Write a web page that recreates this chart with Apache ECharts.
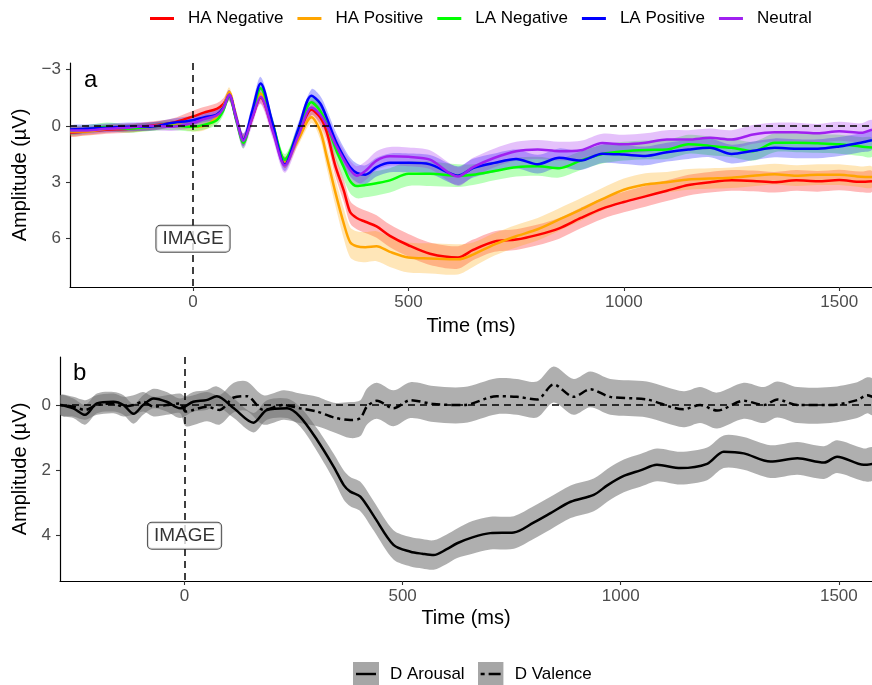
<!DOCTYPE html>
<html>
<head>
<meta charset="utf-8">
<script src="https://cdn.jsdelivr.net/npm/echarts@6/dist/echarts.min.js"></script>
<style>
  html, body { margin: 0; padding: 0; background: #ffffff; }
  #chart { width: 872px; height: 685px; }
</style>
</head>
<body>
<div id="chart"></div>
<script>
// ---------------- Panel a: grand-average ERPs per picture category ----------------
const times = [-285, -250, -200, -150, -100, -50, 0, 25, 55, 70, 84, 100, 117, 137, 157, 185, 213, 244, 275, 295,
  310, 330, 350, 365, 380, 400, 426, 457, 500, 550, 615, 650, 700, 750, 800, 850, 900, 950, 1000, 1050,
  1100, 1150, 1200, 1250, 1300, 1350, 1400, 1450, 1500, 1550, 1576];

const haNegative = [0.35, 0.3, 0.2, 0.15, 0.0, -0.15, -0.5, -0.7, -0.9, -1.15, -1.6, -0.4, 0.75, -0.4, -1.5, 0.2, 1.95, 0.55, -0.85, -0.45,
  0.3, 2.1, 3.45, 4.6, 4.9, 5.1, 5.35, 5.85, 6.35, 6.8, 7.0, 6.6, 6.15, 6.05, 5.8, 5.45, 4.9, 4.4, 4.05, 3.75,
  3.45, 3.15, 3.0, 2.9, 2.93, 3.0, 2.9, 2.95, 2.88, 2.98, 2.95];
const haPositive = [0.3, 0.3, 0.15, 0.1, 0.05, -0.1, 0.05, 0.0, -0.45, -1.0, -1.8, -0.5, 0.75, -0.5, -1.7, 0.1, 1.95, 0.75, -0.45, 0.25,
  1.6, 3.5, 5.2, 6.2, 6.4, 6.45, 6.4, 6.7, 7.0, 7.05, 7.1, 6.85, 6.3, 5.87, 5.5, 4.98, 4.45, 3.9, 3.4, 3.12,
  3.0, 2.85, 2.8, 2.76, 2.66, 2.57, 2.65, 2.6, 2.6, 2.71, 2.72];
const laNegative = [0.25, 0.2, 0.05, 0.15, 0.05, 0.0, 0.05, -0.05, -0.3, -0.8, -1.6, -0.35, 0.9, -0.55, -2.0, -0.1, 1.8, 0.3, -1.25, -0.8,
  -0.1, 1.15, 2.2, 2.95, 3.2, 3.15, 3.05, 2.9, 2.55, 2.55, 2.65, 2.6, 2.4, 2.2, 2.15, 2.25, 1.85, 1.5, 1.35, 1.28,
  1.26, 0.98, 1.07, 1.17, 1.35, 0.9, 0.9, 0.93, 0.98, 1.1, 1.15];
const laPositive = [0.2, 0.15, 0.1, 0.05, 0.05, -0.15, -0.3, -0.45, -0.6, -0.95, -1.65, -0.45, 0.75, -0.75, -2.25, -0.1, 2.05, 0.2, -1.6, -1.2,
  -0.45, 0.75, 1.65, 2.2, 2.5, 2.6, 2.2, 1.97, 1.97, 2.05, 2.65, 2.25, 1.97, 1.76, 2.04, 1.7, 1.85, 1.48, 1.53, 1.6,
  1.4, 1.26, 1.17, 1.5, 1.33, 1.17, 1.22, 1.22, 1.1, 0.9, 0.77];
const neutral = [0.25, 0.25, 0.15, 0.1, 0.0, 0.05, -0.15, -0.35, -0.55, -0.9, -1.65, -0.42, 0.8, -0.38, -1.55, 0.28, 2.1, 0.56, -0.97, -0.6,
  -0.05, 0.95, 1.8, 2.35, 2.65, 2.4, 1.85, 1.62, 1.65, 1.8, 2.7, 2.2, 1.7, 1.35, 1.26, 1.35, 1.3, 0.92, 0.98, 0.9,
  0.73, 0.73, 0.64, 0.73, 0.46, 0.34, 0.34, 0.4, 0.29, 0.37, 0.2];

// half-widths of the confidence ribbons (µV)
const haNegativeCI = [0.22, 0.22, 0.22, 0.22, 0.22, 0.22, 0.3, 0.3, 0.3, 0.3, 0.3, 0.3, 0.3, 0.3, 0.3, 0.3, 0.3, 0.3, 0.3, 0.4,
  0.5, 0.55, 0.6, 0.6, 0.6, 0.6, 0.6, 0.6, 0.6, 0.6, 0.6, 0.55, 0.55, 0.55, 0.55, 0.55, 0.55, 0.55, 0.55, 0.55,
  0.55, 0.55, 0.55, 0.55, 0.55, 0.55, 0.55, 0.55, 0.55, 0.55, 0.55];
const haPositiveCI = [0.22, 0.22, 0.22, 0.22, 0.22, 0.22, 0.25, 0.25, 0.25, 0.25, 0.25, 0.3, 0.3, 0.3, 0.3, 0.3, 0.3, 0.3, 0.3, 0.45,
  0.6, 0.7, 0.8, 0.8, 0.8, 0.8, 0.8, 0.8, 0.8, 0.8, 0.8, 0.65, 0.6, 0.6, 0.6, 0.6, 0.6, 0.6, 0.6, 0.6,
  0.55, 0.55, 0.55, 0.55, 0.55, 0.55, 0.55, 0.55, 0.55, 0.55, 0.55];
const laNegativeCI = [0.22, 0.22, 0.22, 0.22, 0.22, 0.22, 0.25, 0.25, 0.25, 0.25, 0.25, 0.3, 0.3, 0.3, 0.3, 0.3, 0.3, 0.3, 0.3, 0.35,
  0.45, 0.55, 0.65, 0.65, 0.65, 0.65, 0.65, 0.65, 0.65, 0.65, 0.6, 0.55, 0.5, 0.5, 0.5, 0.5, 0.5, 0.5, 0.5, 0.5,
  0.5, 0.5, 0.5, 0.5, 0.5, 0.5, 0.5, 0.5, 0.5, 0.5, 0.5];
const laPositiveCI = [0.22, 0.22, 0.22, 0.22, 0.22, 0.22, 0.25, 0.25, 0.25, 0.25, 0.25, 0.35, 0.35, 0.35, 0.35, 0.35, 0.35, 0.35, 0.35, 0.4,
  0.45, 0.5, 0.5, 0.5, 0.5, 0.5, 0.5, 0.5, 0.5, 0.5, 0.5, 0.5, 0.5, 0.5, 0.5, 0.5, 0.5, 0.5, 0.5, 0.5,
  0.5, 0.5, 0.5, 0.5, 0.5, 0.5, 0.5, 0.5, 0.5, 0.5, 0.5];
const neutralCI = [0.22, 0.22, 0.22, 0.22, 0.22, 0.22, 0.25, 0.25, 0.25, 0.25, 0.25, 0.4, 0.4, 0.4, 0.4, 0.4, 0.4, 0.4, 0.4, 0.45,
  0.5, 0.5, 0.5, 0.5, 0.5, 0.5, 0.5, 0.5, 0.5, 0.5, 0.5, 0.5, 0.5, 0.5, 0.5, 0.5, 0.5, 0.5, 0.5, 0.5,
  0.5, 0.5, 0.5, 0.5, 0.5, 0.5, 0.5, 0.5, 0.5, 0.5, 0.5];

const categoryNames = ['HA Negative', 'HA Positive', 'LA Negative', 'LA Positive', 'Neutral'];
const categoryColors = ['#FF0000', '#FFA500', '#00FF00', '#0000FF', '#A020F0'];

// ---------------- Panel b: difference waves ----------------
const arousalTimes = [-285, -255, -228, -201, -163, -140, -117, -95, -71, -41, -10, 20, 50, 74, 113, 158, 189, 235, 265, 304,
  342, 365, 380, 403, 434, 479, 518, 545, 571, 600, 625, 660, 701, 755, 800, 839, 885, 938, 970, 1007,
  1045, 1083, 1137, 1198, 1236, 1282, 1343, 1405, 1466, 1496, 1557, 1577];
const arousal = [0.0, 0.1, 0.3, -0.05, -0.1, 0.0, 0.27, 0.0, -0.2, -0.1, 0.1, -0.1, -0.15, -0.27, 0.1, 0.54, 0.15, 0.1, 0.36, 1.07,
  1.89, 2.45, 2.65, 2.8, 3.4, 4.28, 4.49, 4.55, 4.59, 4.42, 4.23, 4.05, 3.92, 3.9, 3.6, 3.31, 2.96, 2.75, 2.45, 2.17,
  2.0, 1.83, 1.93, 1.8, 1.43, 1.48, 1.73, 1.63, 1.76, 1.58, 1.83, 1.8];
const arousalCI = [0.3, 0.3, 0.3, 0.3, 0.3, 0.3, 0.3, 0.3, 0.3, 0.3, 0.3, 0.3, 0.3, 0.3, 0.3, 0.3, 0.3, 0.3, 0.3, 0.35,
  0.4, 0.45, 0.45, 0.45, 0.45, 0.45, 0.45, 0.45, 0.45, 0.45, 0.45, 0.5, 0.5, 0.5, 0.5, 0.5, 0.5, 0.5, 0.5, 0.5,
  0.5, 0.5, 0.5, 0.5, 0.5, 0.5, 0.5, 0.5, 0.5, 0.5, 0.5, 0.5];

const valenceTimes = [-285, -255, -228, -201, -163, -140, -117, -95, -71, -41, -10, 3, 51, 80, 113, 143, 181, 227, 265, 304,
  342, 380, 403, 418, 441, 479, 518, 571, 640, 716, 762, 808, 846, 892, 930, 976, 1060, 1144, 1182, 1221,
  1282, 1328, 1359, 1405, 1481, 1542, 1565, 1577];
const valence = [0.0, 0.05, 0.15, 0.0, -0.05, 0.05, 0.0, -0.1, 0.05, 0.0, -0.05, 0.2, 0.05, 0.15, -0.23, -0.27, 0.15, 0.0, 0.1, 0.2,
  0.38, 0.46, 0.4, 0.05, -0.13, 0.1, -0.15, -0.03, 0.0, -0.27, -0.25, -0.17, -0.63, -0.25, -0.48, -0.25, -0.17, 0.13, 0.0, 0.17,
  -0.13, 0.0, -0.17, 0.0, 0.0, -0.15, -0.3, -0.25];
const valenceCI = [0.3, 0.3, 0.3, 0.3, 0.3, 0.3, 0.3, 0.3, 0.3, 0.3, 0.3, 0.45, 0.45, 0.45, 0.45, 0.45, 0.45, 0.45, 0.45, 0.45,
  0.45, 0.55, 0.55, 0.55, 0.55, 0.55, 0.55, 0.55, 0.55, 0.55, 0.55, 0.55, 0.55, 0.55, 0.55, 0.55, 0.55, 0.55, 0.55, 0.55,
  0.55, 0.55, 0.55, 0.55, 0.55, 0.55, 0.55, 0.55];

// axis ticks and the stimulus-onset annotation
const timeTicks = [0, 500, 1000, 1500];
const amplitudeTicksA = [-3, 0, 3, 6];
const amplitudeTicksB = [0, 2, 4];
const onsetLabel = 'IMAGE';
const onsetLabelPosA = [0, 6];
const onsetLabelPosB = [0, 4];

const FONT = '"Liberation Sans", Arial, Helvetica, sans-serif';
const SMOOTH = 0.3;

function minusFmt(v) { return v < 0 ? '\u2212' + Math.abs(v) : String(v); }

// Ribbon drawn as a single filled polygon (mean ± half-width) through the axis scales.
function ribbon(name, axis, xs, ys, half, fill, opacity) {
  return {
    type: 'custom', name: name, xAxisIndex: axis, yAxisIndex: axis, clip: true, silent: true, z: 1,
    data: xs.map((x, i) => [x, ys[i]]),
    renderItem: function (params, api) {
      if (params.dataIndex !== 0) return null;
      const upper = xs.map((x, i) => api.coord([x, ys[i] - half[i]]));
      const lower = xs.map((x, i) => api.coord([x, ys[i] + half[i]])).reverse();
      return {
        type: 'polygon',
        shape: { points: upper.concat(lower), smooth: SMOOTH },
        style: { fill: fill, opacity: opacity }
      };
    }
  };
}

function meanLine(name, axis, xs, ys, color, dash) {
  return {
    type: 'line', name: name, xAxisIndex: axis, yAxisIndex: axis, z: 3,
    data: xs.map((x, i) => [x, ys[i]]),
    symbol: 'none', smooth: SMOOTH, silent: true,
    itemStyle: { color: color },
    lineStyle: { color: color, width: 2.5, type: dash || 'solid' }
  };
}

function refLines(axis) {
  return {
    type: 'line', name: 'reference', xAxisIndex: axis, yAxisIndex: axis, data: [], z: 5, silent: true,
    markLine: {
      symbol: ['none', 'none'], silent: true, animation: false,
      label: { show: false },
      lineStyle: { color: '#000', type: [7, 5], width: 1.5 },
      data: [{ yAxis: 0 }, { xAxis: 0 }]
    }
  };
}

function onsetTag(axis, pos) {
  return {
    type: 'scatter', name: 'onset', xAxisIndex: axis, yAxisIndex: axis, z: 10, silent: true,
    data: [pos], symbolSize: 0,
    label: {
      show: true, position: 'inside', formatter: onsetLabel,
      fontFamily: FONT, fontSize: 19, color: '#000',
      backgroundColor: '#fff', borderColor: '#222', borderWidth: 1, borderRadius: 4,
      padding: [4, 6, 3, 6]
    }
  };
}

function xAxis(grid, nameGap) {
  return {
    type: 'value', gridIndex: grid, min: -285.5, max: 1576,
    name: 'Time (ms)', nameLocation: 'middle', nameGap: nameGap,
    nameTextStyle: { fontFamily: FONT, fontSize: 20, color: '#000' },
    axisLine: { onZero: false, lineStyle: { color: '#000', width: 1.2 } },
    axisTick: { show: true, length: 4, customValues: timeTicks, lineStyle: { color: '#333', width: 1.1 } },
    axisLabel: { customValues: timeTicks, margin: 7, fontFamily: FONT, fontSize: 17, color: '#4d4d4d',
      formatter: (v) => String(v) },
    splitLine: { show: false }
  };
}

function yAxis(grid, min, max, ticks, nameGap) {
  return {
    type: 'value', gridIndex: grid, inverse: true, min: min, max: max,
    name: 'Amplitude (\u00b5V)', nameLocation: 'middle', nameGap: nameGap,
    nameTextStyle: { fontFamily: FONT, fontSize: 20, color: '#000' },
    axisLine: { show: true, onZero: false, lineStyle: { color: '#000', width: 1.2 } },
    axisTick: { show: true, length: 4, customValues: ticks, lineStyle: { color: '#333', width: 1.1 } },
    axisLabel: { customValues: ticks, margin: 9, fontFamily: FONT, fontSize: 17, color: '#4d4d4d', formatter: minusFmt },
    splitLine: { show: false }
  };
}

function keyIcon(dash) {
  const svg = "<svg xmlns='http://www.w3.org/2000/svg' width='26' height='24'>" +
    "<rect width='26' height='24' fill='#a6a6a6'/>" +
    "<line x1='3' y1='12' x2='23' y2='12' stroke='#000' stroke-width='2.4'" +
    (dash ? " stroke-dasharray='" + dash + "'" : '') + "/></svg>";
  return 'image://data:image/svg+xml;charset=utf-8,' + encodeURIComponent(svg);
}

const topSeriesValues = [haNegative, haPositive, laNegative, laPositive, neutral];
const topSeriesCI = [haNegativeCI, haPositiveCI, laNegativeCI, laPositiveCI, neutralCI];

const series = [];
categoryNames.forEach((n, k) => {
  series.push(ribbon(n + ' CI', 0, times, topSeriesValues[k], topSeriesCI[k], categoryColors[k], 0.28));
});
categoryNames.forEach((n, k) => {
  series.push(meanLine(n, 0, times, topSeriesValues[k], categoryColors[k]));
});
series.push(refLines(0));
series.push(onsetTag(0, onsetLabelPosA));

series.push(ribbon('D Arousal CI', 1, arousalTimes, arousal, arousalCI, '#6e6e6e', 0.55));
series.push(ribbon('D Valence CI', 1, valenceTimes, valence, valenceCI, '#6e6e6e', 0.55));
series.push(meanLine('D Arousal', 1, arousalTimes, arousal, '#000'));
series.push(meanLine('D Valence', 1, valenceTimes, valence, '#000', [3, 4, 9, 4]));
series.push(refLines(1));
series.push(onsetTag(1, onsetLabelPosB));

const chart = echarts.init(document.getElementById('chart'));
chart.setOption({
  animation: false,
  backgroundColor: '#ffffff',
  textStyle: { fontFamily: FONT },
  grid: [
    { left: 70, top: 63, right: 0, height: 224, containLabel: false },
    { left: 60, top: 357, right: 0, height: 224, containLabel: false }
  ],
  xAxis: [xAxis(0, 29), xAxis(1, 27)],
  yAxis: [yAxis(0, -3.34, 8.57, amplitudeTicksA, 37), yAxis(1, -1.47, 5.385, amplitudeTicksB, 27)],
  legend: [
    {
      data: categoryNames, left: 150, top: 10, padding: 0,
      icon: 'rect', itemWidth: 24, itemHeight: 3, itemGap: 14,
      selectedMode: false,
      textStyle: { fontFamily: FONT, fontSize: 17, color: '#000', padding: [0, 0, 0, 9] }
    },
    {
      data: [{ name: 'D Arousal', icon: keyIcon(null) }, { name: 'D Valence', icon: keyIcon('4 4 12') }],
      left: 353, top: 662, padding: 0, itemWidth: 26, itemHeight: 24, itemGap: 13,
      selectedMode: false,
      lineStyle: { opacity: 0, width: 0 },
      textStyle: { fontFamily: FONT, fontSize: 17, color: '#000', padding: [0, 0, 0, 6] }
    }
  ],
  graphic: [
    { type: 'text', left: 84, top: 68, style: { text: 'a', font: '24px ' + FONT, fill: '#000' }, silent: true },
    { type: 'text', left: 73, top: 361, style: { text: 'b', font: '24px ' + FONT, fill: '#000' }, silent: true }
  ],
  series: series
});
</script>
</body>
</html>
